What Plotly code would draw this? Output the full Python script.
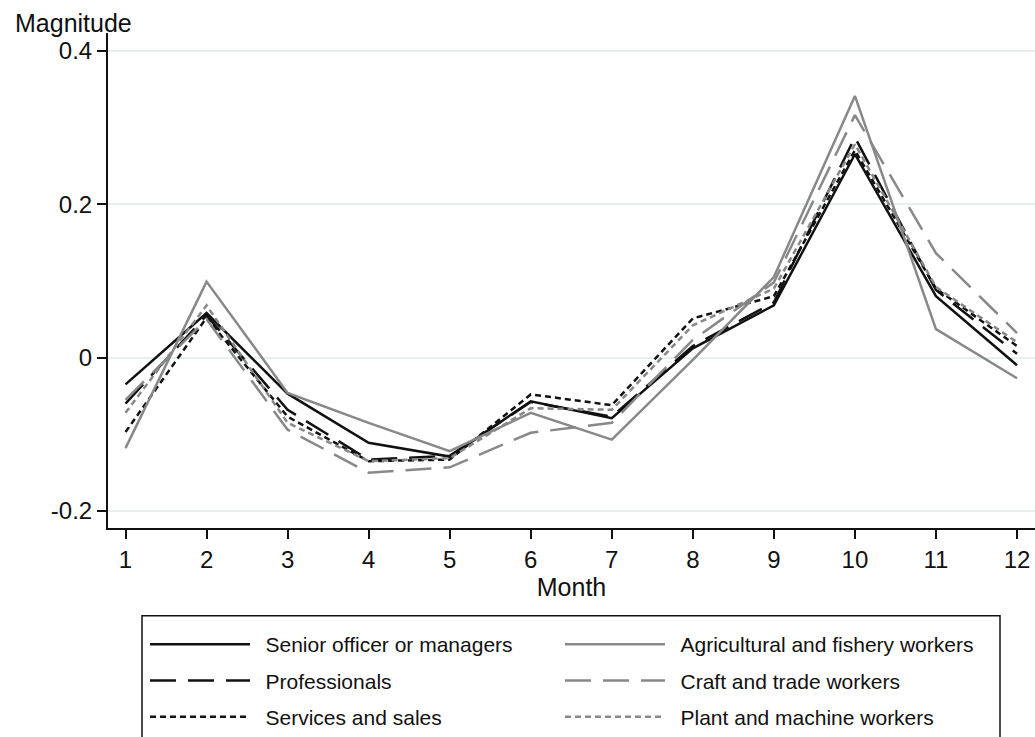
import plotly.graph_objects as go

# Monthly magnitude by occupation group
months = [1, 2, 3, 4, 5, 6, 7, 8, 9, 10, 11, 12]

senior = [-0.035, 0.058, -0.047, -0.111, -0.129, -0.057, -0.079, 0.012, 0.068, 0.265, 0.080, -0.010]
professionals = [-0.060, 0.055, -0.068, -0.133, -0.128, -0.058, -0.077, 0.015, 0.072, 0.287, 0.088, 0.005]
services = [-0.097, 0.052, -0.077, -0.135, -0.133, -0.048, -0.062, 0.051, 0.080, 0.270, 0.090, 0.015]
agricultural = [-0.118, 0.099, -0.046, -0.085, -0.122, -0.072, -0.107, -0.003, 0.105, 0.341, 0.037, -0.027]
craft = [-0.055, 0.050, -0.094, -0.150, -0.143, -0.098, -0.085, 0.023, 0.098, 0.316, 0.136, 0.032]
plant = [-0.072, 0.068, -0.085, -0.135, -0.131, -0.066, -0.068, 0.042, 0.090, 0.278, 0.092, 0.020]

y_ticks = [-0.2, 0, 0.2, 0.4]
y_tick_labels = ["-0.2", "0", "0.2", "0.4"]

BLACK = "#111111"
GRAY = "#888888"
FONT = "Liberation Sans, Arial, sans-serif"
PAD = "\u2002"  # small gap between legend key and label

series = [
    ("Senior officer or managers", senior, BLACK, "solid", "legend"),
    ("Professionals", professionals, BLACK, "26px,12px", "legend"),
    ("Services and sales", services, BLACK, "6px,4px", "legend"),
    ("Agricultural and fishery workers", agricultural, GRAY, "solid", "legend2"),
    ("Craft and trade workers", craft, GRAY, "26px,12px", "legend2"),
    ("Plant and machine workers", plant, GRAY, "6px,4px", "legend2"),
]

fig = go.Figure()
for name, vals, color, dash, leg in series:
    fig.add_trace(go.Scatter(
        x=months, y=vals, mode="lines", name=PAD + name,
        line=dict(color=color, width=2.5, dash=dash),
        legend=leg, legendgroup=name,
    ))

legend_common = dict(
    orientation="v", yanchor="top", xanchor="left",
    font=dict(family=FONT, size=21, color="#111111"),
    bgcolor="rgba(0,0,0,0)", borderwidth=0,
    itemwidth=100, tracegroupgap=6,
)

legend_y = (529 - 625) / 496

fig.update_layout(
    width=1035, height=737,
    margin=dict(l=108, r=0, t=33, b=208),
    paper_bgcolor="white", plot_bgcolor="white",
    font=dict(family=FONT, size=24, color="#111111"),
    showlegend=True,
    legend=dict(x=0.0399, y=legend_y, **legend_common),
    legend2=dict(x=0.4876, y=legend_y, **legend_common),
    xaxis=dict(
        range=[0.784, 12.222], tickmode="array", tickvals=months,
        ticks="outside", ticklen=9, tickwidth=2, tickcolor="#111111",
        showline=True, linecolor="#111111", linewidth=2,
        showgrid=False, zeroline=False,
        tickfont=dict(family=FONT, size=24),
        title=dict(text="Month", font=dict(family=FONT, size=25), standoff=0),
    ),
    yaxis=dict(
        range=[-0.2221, 0.4230], tickmode="array",
        tickvals=y_ticks, ticktext=y_tick_labels,
        ticks="outside", ticklen=9, tickwidth=2, tickcolor="#111111",
        showline=True, linecolor="#111111", linewidth=2,
        showgrid=True, gridcolor="#e6eeee", gridwidth=2, zeroline=False,
        tickfont=dict(family=FONT, size=24),
    ),
    annotations=[dict(
        text="Magnitude", xref="paper", yref="paper",
        x=(13 - 108) / 927, y=(529 - 23) / 496,
        xanchor="left", yanchor="middle", showarrow=False,
        font=dict(family=FONT, size=25, color="#111111"),
    )],
    shapes=[dict(
        type="rect", xref="paper", yref="paper",
        x0=(142 - 108) / 927, x1=(1000 - 108) / 927,
        y0=(529 - 617) / 496, y1=(529 - 745) / 496,
        line=dict(color="#111111", width=1.5), fillcolor="rgba(0,0,0,0)",
    )],
)

fig.write_html("out.html")
